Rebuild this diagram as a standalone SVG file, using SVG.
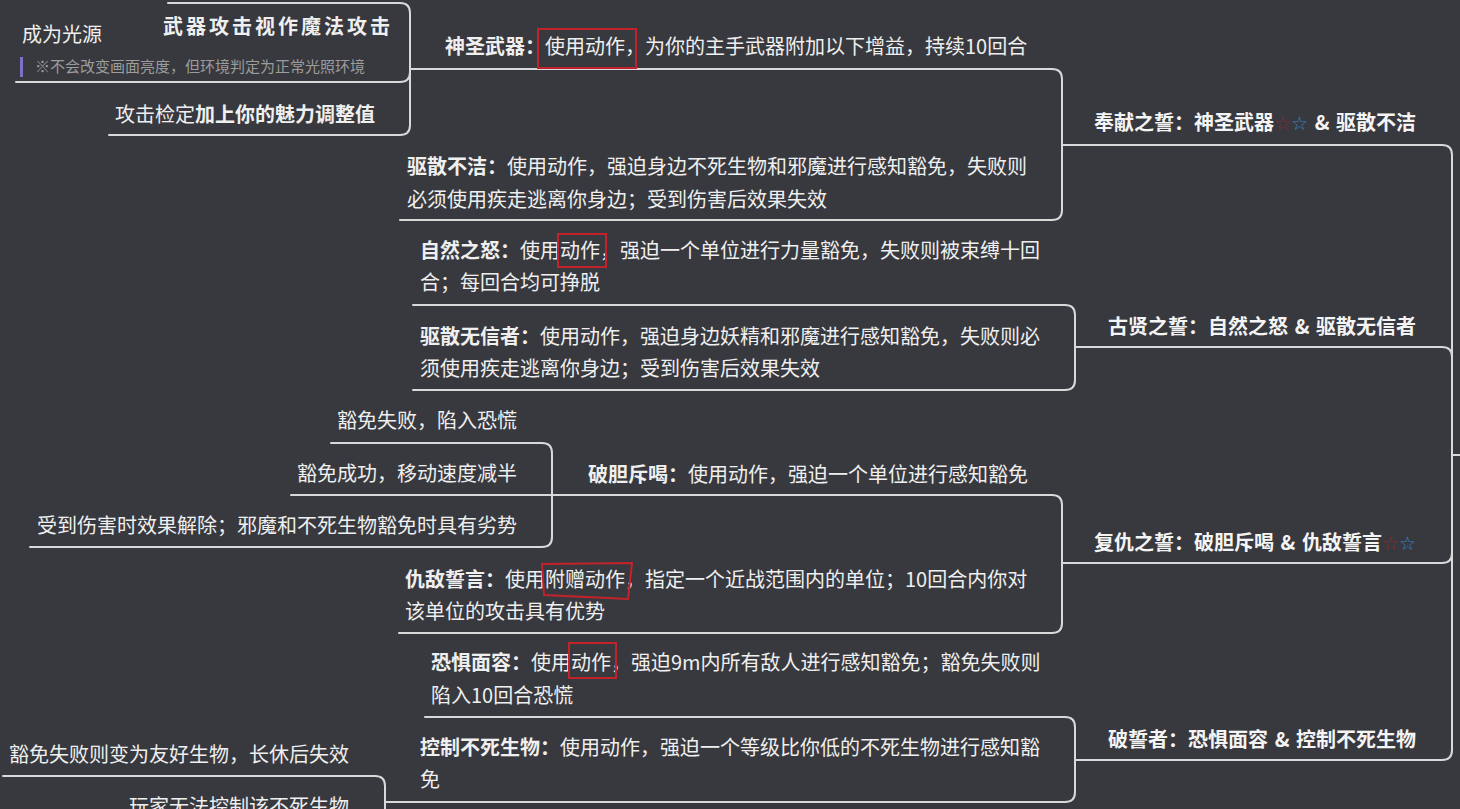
<svg xmlns="http://www.w3.org/2000/svg" width="1460" height="809" viewBox="0 0 1460 809">
<style>
.bg{fill:#38393e}
text{font-family:"Noto Sans CJK SC","Noto Sans",sans-serif;font-size:20px;fill:#efefef}
.b{font-weight:700}
.h{font-weight:700;fill:#f4f4f4;word-spacing:2px}
.note{font-size:15px;fill:#9c9c9c}
.ttl{font-weight:700;letter-spacing:3px}
.ln{fill:none;stroke:#d9d9d9;stroke-width:2;stroke-linecap:round}
.rb{fill:none;stroke:#c4222b;stroke-width:2}
.sr{fill:#8a2a2e;font-family:"DejaVu Sans",sans-serif;font-size:19px;font-weight:400}
.sb{fill:#3d82c8;font-family:"DejaVu Sans",sans-serif;font-size:19px;font-weight:400}
</style>
<rect class="bg" width="1460" height="809"/>
<g id="connectors">
<path class="ln" d="M1460,455 H1452 V155 Q1452,145 1442,145 H1062"/>
<path class="ln" d="M1452,455 V357 Q1452,347 1442,347 H1075"/>
<path class="ln" d="M1452,455 V553 Q1452,563 1442,563 H1062"/>
<path class="ln" d="M1452,455 V750 Q1452,760 1442,760 H1075"/>
<path class="ln" d="M1062,145 V79 Q1062,69 1052,69 H410"/>
<path class="ln" d="M1062,145 V210 Q1062,220 1052,220 H400"/>
<path class="ln" d="M1075,347 V315 Q1075,305 1065,305 H413"/>
<path class="ln" d="M1075,347 V380 Q1075,390 1065,390 H413"/>
<path class="ln" d="M1062,563 V505 Q1062,495 1052,495 H291"/>
<path class="ln" d="M1062,563 V623 Q1062,633 1052,633 H399"/>
<path class="ln" d="M1075,760 V727 Q1075,717 1065,717 H425"/>
<path class="ln" d="M1075,760 V792 Q1075,802 1065,802 H385"/>
<path class="ln" d="M410,69 V13 Q410,3 400,3 H168"/>
<path class="ln" d="M410,69 V72 Q410,82 400,82 H16"/>
<path class="ln" d="M410,69 V125 Q410,135 400,135 H109"/>
<path class="ln" d="M552,495 V453 Q552,443 542,443 H331"/>
<path class="ln" d="M552,495 V537 Q552,547 542,547 H30"/>
<path class="ln" d="M385,802 V786 Q385,776 375,776 H3"/>
<path class="ln" d="M385,802 V820"/>
</g>
<g id="h1"><text class="h" x="1416" y="130" text-anchor="end">奉献之誓：神圣武器<tspan class="sr">☆</tspan><tspan class="sb">☆</tspan> &amp; 驱散不洁</text></g>
<g id="h2"><text class="h" x="1416" y="334" text-anchor="end">古贤之誓：自然之怒 &amp; 驱散无信者</text></g>
<g id="h3"><text class="h" x="1416" y="550" text-anchor="end">复仇之誓：破胆斥喝 &amp; 仇敌誓言<tspan class="sr">☆</tspan><tspan class="sb">☆</tspan></text></g>
<g id="h4"><text class="h" x="1416" y="747" text-anchor="end">破誓者：恐惧面容 &amp; 控制不死生物</text></g>
<g id="n-shengsheng"><text x="445" y="54"><tspan class="b">神圣武器：</tspan>使用动作，为你的主手武器附加以下增益，持续10回合</text>
<rect class="rb" x="538" y="29" width="98" height="39"/></g>
<g id="n-qusan"><text x="407" y="174"><tspan class="b">驱散不洁：</tspan>使用动作，强迫身边不死生物和邪魔进行感知豁免，失败则</text>
<text x="407" y="207">必须使用疾走逃离你身边；受到伤害后效果失效</text></g>
<g id="n-wuqi"><text class="ttl" x="163" y="34">武器攻击视作魔法攻击</text></g>
<g id="n-guangyuan"><text x="22" y="42">成为光源</text>
<rect x="20" y="57" width="3" height="20" fill="#7d70c8"/>
<text class="note" x="35" y="72">※不会改变画面亮度，但环境判定为正常光照环境</text></g>
<g id="n-jianding"><text x="115" y="122">攻击检定<tspan class="b">加上你的魅力调整值</tspan></text></g>
<g id="n-ziran"><text x="420" y="258"><tspan class="b">自然之怒：</tspan>使用动作，强迫一个单位进行力量豁免，失败则被束缚十回</text>
<text x="420" y="290">合；每回合均可挣脱</text>
<rect class="rb" x="558" y="234" width="48" height="33"/></g>
<g id="n-wuxin"><text x="420" y="344"><tspan class="b">驱散无信者：</tspan>使用动作，强迫身边妖精和邪魔进行感知豁免，失败则必</text>
<text x="420" y="376">须使用疾走逃离你身边；受到伤害后效果失效</text></g>
<g id="n-podan"><text x="588" y="482"><tspan class="b">破胆斥喝：</tspan>使用动作，强迫一个单位进行感知豁免</text></g>
<g id="n-shibai"><text x="517" y="428" text-anchor="end">豁免失败，陷入恐慌</text></g>
<g id="n-chenggong"><text x="517" y="481" text-anchor="end">豁免成功，移动速度减半</text></g>
<g id="n-jiechu"><text x="517" y="533" text-anchor="end">受到伤害时效果解除；邪魔和不死生物豁免时具有劣势</text></g>
<g id="n-choudi"><text x="405" y="587"><tspan class="b">仇敌誓言：</tspan>使用附赠动作，指定一个近战范围内的单位；10回合内你对</text>
<text x="405" y="619">该单位的攻击具有优势</text>
<polygon class="rb" points="542,564 632,563 628,599 544,595"/></g>
<g id="n-kongju"><text x="431" y="670"><tspan class="b">恐惧面容：</tspan>使用动作，强迫9m内所有敌人进行感知豁免；豁免失败则</text>
<text x="431" y="703">陷入10回合恐慌</text>
<rect class="rb" x="569" y="643" width="47" height="35"/></g>
<g id="n-kongzhi"><text x="420" y="755"><tspan class="b">控制不死生物：</tspan>使用动作，强迫一个等级比你低的不死生物进行感知豁</text>
<text x="420" y="787">免</text></g>
<g id="n-youhao"><text x="349" y="762" text-anchor="end">豁免失败则变为友好生物，长休后失效</text></g>
<g id="n-wanjia"><text x="349" y="814" text-anchor="end">玩家无法控制该不死生物</text></g>
</svg>
